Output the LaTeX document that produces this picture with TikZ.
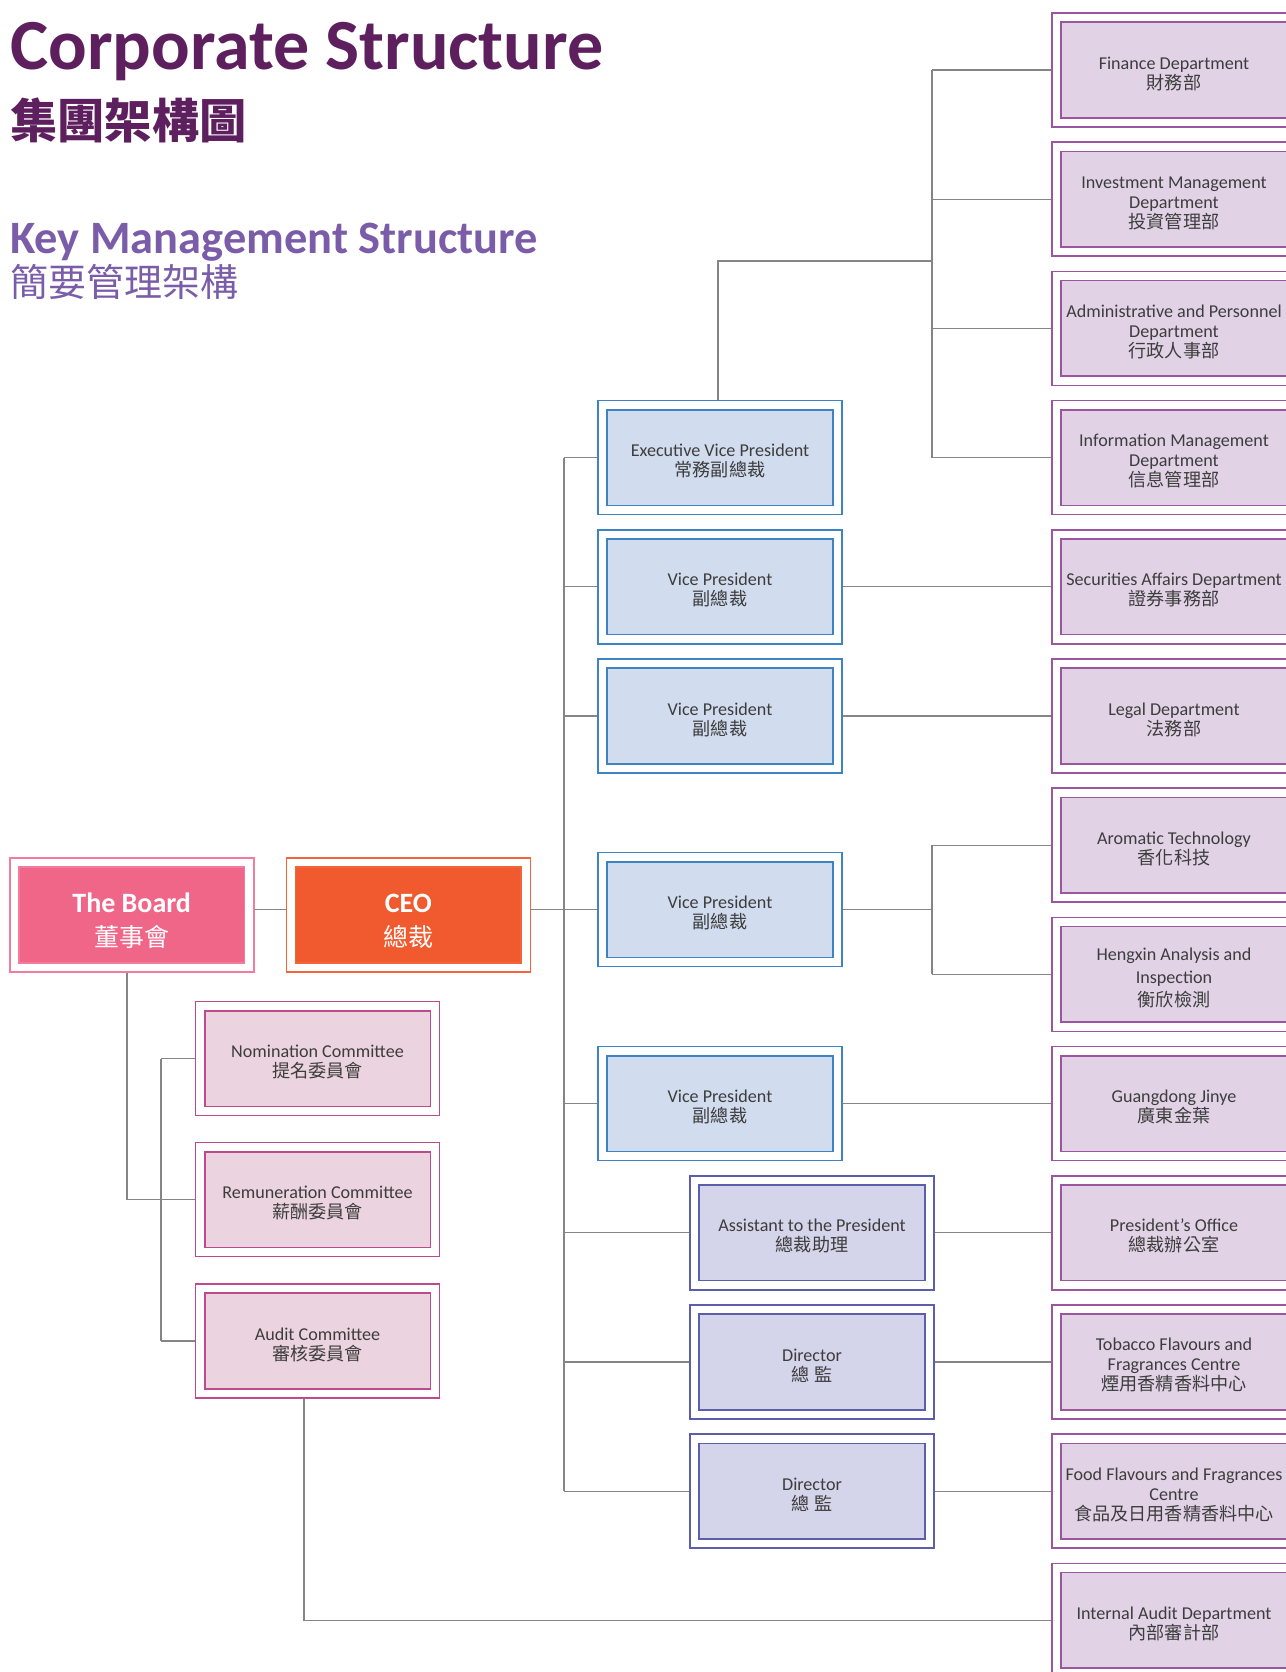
\documentclass[tikz,border=0pt]{standalone}
\usepackage{fontspec}
\setmainfont{Carlito}
\newfontfamily\zhfont{Noto Sans CJK TC}
\newcommand\zh[1]{{\zhfont #1}}
\newcommand\lift{\rule{0pt}{9.8pt}}
\newcommand\hlift{\rule{0pt}{15.5pt}}
\usetikzlibrary{positioning,calc}
\definecolor{ink}{HTML}{3D3D3D}
\definecolor{titlepurple}{HTML}{5E1F5F}
\definecolor{keypurple}{HTML}{7A5CA9}
\definecolor{linegray}{HTML}{858585}
\definecolor{boardline}{HTML}{F27B9E}
\definecolor{boardfill}{HTML}{F06689}
\definecolor{ceoline}{HTML}{F0663A}
\definecolor{ceofill}{HTML}{F15A2F}
\definecolor{vpline}{HTML}{3E84C4}
\definecolor{vpfill}{HTML}{D1DCEE}
\definecolor{asstline}{HTML}{5D5EAB}
\definecolor{asstfill}{HTML}{D4D4EA}
\definecolor{deptline}{HTML}{9C56A0}
\definecolor{deptfill}{HTML}{E1D2E6}
\definecolor{commline}{HTML}{BE4A8E}
\definecolor{commfill}{HTML}{EBD3DF}
\tikzset{
  unitbox/.style={draw=#1, line width=0.8pt, double=white, double distance=3.8pt, outer sep=2.7pt,
    minimum width=117.4pt, minimum height=52.4pt, inner sep=0pt, align=center, text=ink,
    font=\fontsize{9.05}{10}\selectfont},
  deptbox/.style={unitbox=deptline, fill=deptfill},
  vpbox/.style={unitbox=vpline, fill=vpfill},
  asstbox/.style={unitbox=asstline, fill=asstfill},
  commbox/.style={unitbox=commline, fill=commfill},
  headbox/.style={unitbox=#1line, fill=#1fill, text=white, font=\fontsize{14}{17}\selectfont},
  link/.style={draw=linegray, line width=0.65pt},
  bigtitle/.style={anchor=base west, inner sep=0pt, text=titlepurple},
  subtitle/.style={anchor=base west, inner sep=0pt, text=keypurple}
}
\begin{document}
\begin{tikzpicture}[x=0.5pt,y=-0.5pt]
\useasboundingbox (0,0) rectangle (1286,1672);
% titles
\node[bigtitle, font=\fontsize{36}{36}\selectfont\bfseries] (t1) at (10,69) {Corporate Structure};
\node[bigtitle, font=\fontsize{23.6}{24}\selectfont\bfseries] (t2) at (10,138) {\zh{集團架構圖}};
\node[subtitle, font=\fontsize{23.2}{24}\selectfont\bfseries] (t3) at (10,253) {Key Management Structure};
\node[subtitle, font=\fontsize{19}{20}\selectfont] (t4) at (10,296) {\zh{簡要管理架構}};
% departments
\node[deptbox] (fin)  at (1174,70)    {\lift Finance Department\\\zh{財務部}};
\node[deptbox] (inv)  at (1174,199.2) {\lift Investment Management\\Department\\\zh{投資管理部}};
\node[deptbox] (adm)  at (1174,328.4) {\lift Administrative and Personnel\\Department\\\zh{行政人事部}};
\node[deptbox] (info) at (1174,457.6) {\lift Information Management\\Department\\\zh{信息管理部}};
\node[deptbox] (sec)  at (1174,586.8) {\lift Securities Affairs Department\\\zh{證券事務部}};
\node[deptbox] (leg)  at (1174,716)   {\lift Legal Department\\\zh{法務部}};
\node[deptbox] (aro)  at (1174,845.2) {\lift Aromatic Technology\\\zh{香化科技}};
\node[deptbox, font=\fontsize{9.05}{11.6}\selectfont] (hen) at (1174,974.4) {\lift Hengxin Analysis and\\Inspection\\\zh{衡欣檢測}};
\node[deptbox] (gd)   at (1174,1103.6) {\lift Guangdong Jinye\\\zh{廣東金葉}};
\node[deptbox] (pres) at (1174,1232.8) {\lift President’s Office\\\zh{總裁辦公室}};
\node[deptbox] (tob)  at (1174,1362)  {\lift Tobacco Flavours and\\Fragrances Centre\\\zh{煙用香精香料中心}};
\node[deptbox] (food) at (1174,1491.2) {\lift Food Flavours and Fragrances\\Centre\\\zh{食品及日用香精香料中心}};
\node[deptbox] (iad)  at (1174,1620.4) {\lift Internal Audit Department\\\zh{內部審計部}};
% management
\node[vpbox] (evp) at (720,457.6)  {\lift Executive Vice President\\\zh{常務副總裁}};
\node[vpbox] (vp1) at (720,586.8)  {\lift Vice President\\\zh{副總裁}};
\node[vpbox] (vp2) at (720,716)    {\lift Vice President\\\zh{副總裁}};
\node[vpbox] (vp3) at (720,909.6)  {\lift Vice President\\\zh{副總裁}};
\node[vpbox] (vp4) at (720,1103.6) {\lift Vice President\\\zh{副總裁}};
\node[asstbox] (asst) at (812,1232.8) {\lift Assistant to the President\\\zh{總裁助理}};
\node[asstbox] (dir1) at (812,1362)   {\lift Director\\\zh{總 監}};
\node[asstbox] (dir2) at (812,1491.2) {\lift Director\\\zh{總 監}};
% board and committees
\node[headbox=board] (board) at (131.7,915) {\hlift\textbf{The Board}\\\fontsize{12.5}{17}\selectfont\zh{董事會}};
\node[headbox=ceo] (ceo) at (408.4,915) {\hlift\textbf{CEO}\\\fontsize{12.5}{17}\selectfont\zh{總裁}};
\node[commbox] (nom) at (317.5,1058.5) {\lift Nomination Committee\\\zh{提名委員會}};
\node[commbox] (rem) at (317.5,1199.5) {\lift Remuneration Committee\\\zh{薪酬委員會}};
\node[commbox] (aud) at (317.5,1341)   {\lift Audit Committee\\\zh{審核委員會}};
% junctions
\coordinate (ej) at (932,261);
\coordinate (tj) at (564,0);
\coordinate (cj) at (161,0);
% connectors
\draw[link] ([xshift=-1pt]evp.north) |- (ej);
\draw[link] (fin.west -| ej) -- (info.west -| ej);
\foreach \n in {fin,inv,adm,info} \draw[link] (\n.west) -- (\n.west -| ej);
\draw[link] (evp.west -| tj) -- (dir2.west -| tj);
\foreach \n in {evp,vp1,vp2,vp4,asst,dir1,dir2} \draw[link] (\n.west) -- (\n.west -| tj);
\draw[link] (board.east |- vp3.west) -- (ceo.west |- vp3.west);
\draw[link] (ceo.east |- vp3.west) -- (vp3.west);
\draw[link] (vp3.east) -- (vp3.east -| ej);
\draw[link] (aro.west -| ej) -- (hen.west -| ej);
\foreach \n in {aro,hen} \draw[link] (\n.west) -- (\n.west -| ej);
\draw[link] (vp1.east) -- (sec.west);
\draw[link] (vp2.east) -- (leg.west);
\draw[link] (vp4.east) -- (gd.west);
\draw[link] (asst.east) -- (pres.west);
\draw[link] (dir1.east) -- (tob.west);
\draw[link] (dir2.east) -- (food.west);
\draw[link] ([xshift=-2.3pt]board.south) |- (rem.west);
\draw[link] (nom.west -| cj) -- (aud.west -| cj);
\foreach \n in {nom,aud} \draw[link] (\n.west) -- (\n.west -| cj);
\draw[link] ([xshift=-6.7pt]aud.south) |- (iad.west);
\end{tikzpicture}
\end{document}
